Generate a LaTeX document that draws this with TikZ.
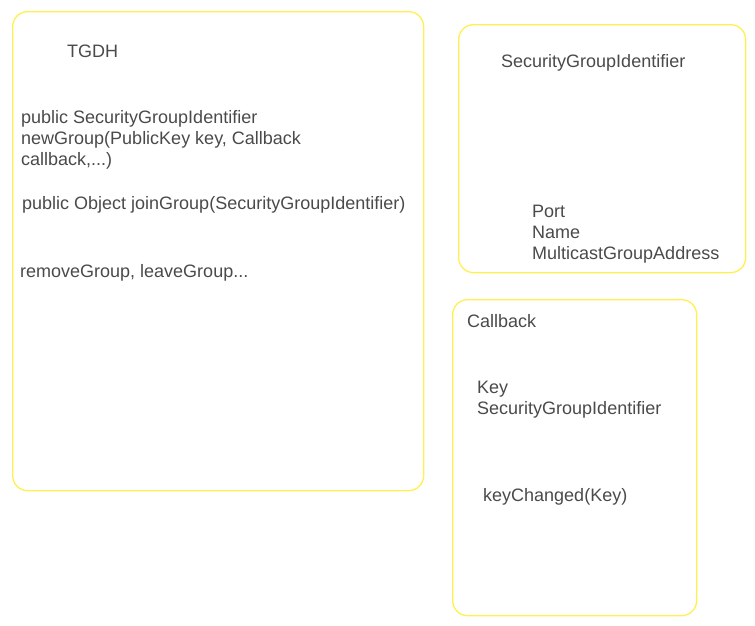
\documentclass[tikz,border=0pt]{standalone}
\usepackage{fontspec}
\setmainfont{Liberation Sans}
\usepackage{xcolor}
\usetikzlibrary{positioning}

\definecolor{panelline}{HTML}{FFF050}
\definecolor{inktext}{HTML}{4A4A4A}

\begin{document}
\begin{tikzpicture}[
    x=1pt, y=-1pt,
    every node/.style={font=\fontsize{18pt}{21pt}\selectfont, text=inktext},
    panel/.style={
        rectangle,
        draw=panelline,
        line width=1.3pt,
        rounded corners=15pt,
        anchor=north west,
        inner sep=0pt
    },
    label/.style={
        anchor=base west,
        align=left,
        inner sep=0pt
    }
]
\useasboundingbox (0,0) rectangle (755,625);

% Three class boxes
\node[panel, minimum width=411pt, minimum height=479pt] (tgdh) at (12, 11) {};
\node[panel, minimum width=287pt, minimum height=248pt] (sgi) at (458, 24) {};
\node[panel, minimum width=244pt, minimum height=316pt] (callback) at (452, 299) {};

% TGDH box contents (multi-line labels sit on their last line)
\node[label] (tgdh-title) at (67, 57) {TGDH};
\node[label] (tgdh-new) at (21, 165) {
    public SecurityGroupIdentifier\\
    newGroup(PublicKey key, Callback\\
    callback,...)
};
\node[label] (tgdh-join) at (22, 209) {public Object joinGroup(SecurityGroupIdentifier)};
\node[label] (tgdh-remove) at (20, 277) {removeGroup, leaveGroup...};

% SecurityGroupIdentifier box contents
\node[label] (sgi-title) at (501, 67) {SecurityGroupIdentifier};
\node[label] (sgi-fields) at (532, 259) {
    Port\\
    Name\\
    MulticastGroupAddress
};

% Callback box contents
\node[label] (cb-title) at (467, 327) {Callback};
\node[label] (cb-fields) at (477, 414) {
    Key\\
    SecurityGroupIdentifier
};
\node[label] (cb-method) at (483, 501) {keyChanged(Key)};

\end{tikzpicture}
\end{document}
